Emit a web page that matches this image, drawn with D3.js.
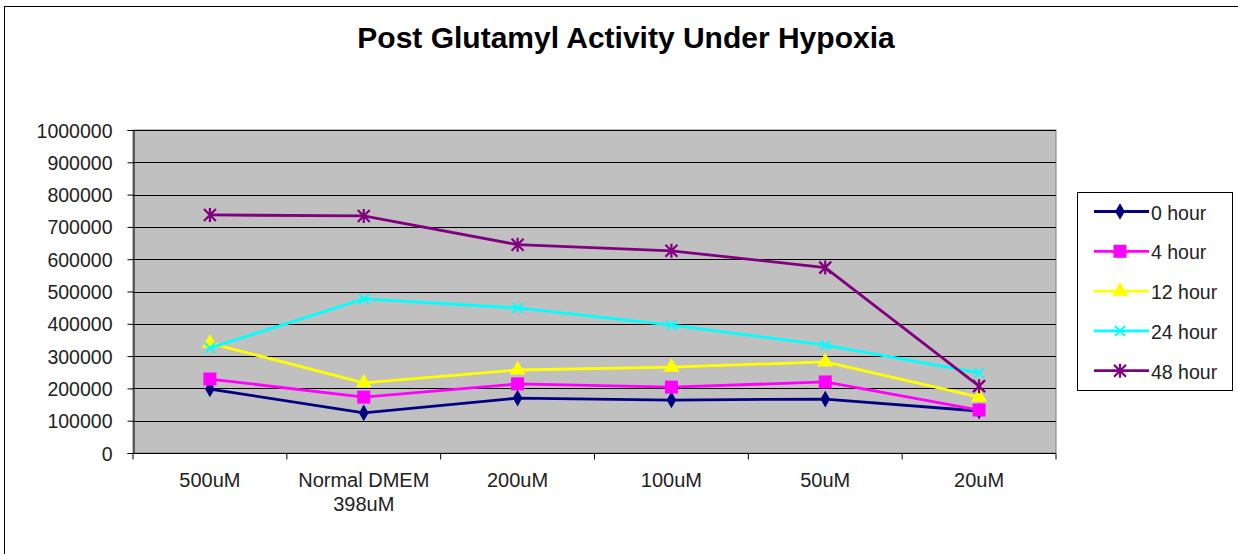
<!DOCTYPE html>
<html><head><meta charset="utf-8">
<script src="https://cdn.jsdelivr.net/npm/d3@7"></script>
<style>body{margin:0;background:#fff}svg{display:block}text{font-family:"Liberation Sans",Arial,sans-serif}</style>
</head><body><svg id="c" width="1238" height="554"></svg>
<script>
const categories = ["500uM", "Normal DMEM\n398uM", "200uM", "100uM", "50uM", "20uM"];
const seriesNames = ["0 hour", "4 hour", "12 hour", "24 hour", "48 hour"];
const h0 = [198000, 124000, 170000, 164000, 167000, 130000];
const h4 = [229000, 173000, 214000, 204000, 220000, 133000];
const h12 = [340000, 217000, 257000, 266000, 282000, 173000];
const h24 = [325000, 477000, 449000, 396000, 334000, 248000];
const h48 = [737000, 734000, 645000, 626000, 574000, 207000];
const yTicks = [0,100000,200000,300000,400000,500000,600000,700000,800000,900000,1000000];
const colors = ["#000080", "#FF00FF", "#FFFF00", "#00FFFF", "#800080"];
const markers = ["diamond", "square", "triangle", "x", "star"];
const series = [h0, h4, h12, h24, h48];

const svg = d3.select("#c");
svg.append("rect").attr("x",4.5).attr("y",6.5).attr("width",1250).attr("height",560).attr("fill","#fff").attr("stroke","#000");

const L=133, R=1056, T=130, B=453;
const x = d3.scaleBand().domain(categories).range([L,R]);
const y = d3.scaleLinear().domain([0,1000000]).range([B,T]);

svg.append("rect").attr("x",L).attr("y",T).attr("width",R-L).attr("height",B-T).attr("fill","#c0c0c0").attr("stroke","#808080");
svg.append("g").selectAll("line").data(yTicks.slice(1)).join("line")
  .attr("x1",L).attr("x2",R).attr("y1",d=>Math.round(y(d))+0.5).attr("y2",d=>Math.round(y(d))+0.5).attr("stroke","#000");

const ya = svg.append("g").attr("transform",`translate(${L+0.5},0)`).call(d3.axisLeft(y).tickValues(yTicks).tickFormat(d3.format("d")).tickSizeOuter(0).tickSize(6).tickPadding(15));
ya.select(".domain").attr("stroke","#000");
ya.selectAll("text").attr("font-size",19.5).attr("fill","#222").attr("dy","0.36em");

const xa = svg.append("g").attr("transform",`translate(0,${B+0.5})`);
xa.append("line").attr("x1",L).attr("x2",R).attr("stroke","#000");
xa.selectAll("line.t").data(d3.range(categories.length+1)).join("line").attr("class","t")
  .attr("x1",i=>L+i*x.step()).attr("x2",i=>L+i*x.step()).attr("y1",0).attr("y2",6).attr("stroke","#000");
xa.selectAll("text").data(categories).join("text")
  .attr("x",d=>x(d)+x.bandwidth()/2).attr("y",33.5).attr("text-anchor","middle").attr("font-size",20).attr("fill","#222")
  .each(function(d){const t=d3.select(this);d.split("\n").forEach((s,i)=>t.append("tspan").attr("x",x(d)+x.bandwidth()/2).attr("dy",i?24:0).text(s));});

svg.append("text").attr("x",626).attr("y",48).attr("text-anchor","middle").attr("font-size",30).attr("font-weight","bold").text("Post Glutamyl Activity Under Hypoxia");

function marker(g, type, color, cx, cy){
  if(type==="diamond") g.append("path").attr("d",d3.symbol(d3.symbolDiamond,80)()).attr("transform",`translate(${cx},${cy})`).attr("fill",color);
  else if(type==="square") g.append("rect").attr("x",cx-6.5).attr("y",cy-6.5).attr("width",13).attr("height",13).attr("fill",color);
  else if(type==="triangle") g.append("path").attr("d",d3.symbol(d3.symbolTriangle,110)()).attr("transform",`translate(${cx},${cy})`).attr("fill",color);
  else if(type==="x") g.append("path").attr("d",`M${cx-5},${cy-5}L${cx+5},${cy+5}M${cx-5},${cy+5}L${cx+5},${cy-5}`).attr("stroke",color).attr("stroke-width",2);
  else g.append("path").attr("d",`M${cx-6},${cy-6}L${cx+6},${cy+6}M${cx-6},${cy+6}L${cx+6},${cy-6}M${cx},${cy-7}L${cx},${cy+7}`).attr("stroke",color).attr("stroke-width",2.2);
}
const line = d3.line().x((d,i)=>x(categories[i])+x.bandwidth()/2).y(d=>y(d));
series.forEach((s,k)=>{
  const g = svg.append("g");
  g.append("path").attr("d",line(s)).attr("fill","none").attr("stroke",colors[k]).attr("stroke-width",2.8);
  s.forEach((v,i)=>marker(g,markers[k],colors[k],x(categories[i])+x.bandwidth()/2,y(v)));
});

const lg = svg.append("g");
lg.append("rect").attr("x",1077.5).attr("y",192.5).attr("width",155).attr("height",198).attr("fill","#fff").attr("stroke","#000");
seriesNames.forEach((n,k)=>{
  const cy = 211.5 + k*39.8;
  lg.append("line").attr("x1",1094).attr("x2",1149).attr("y1",cy).attr("y2",cy).attr("stroke",colors[k]).attr("stroke-width",2.8);
  marker(lg,markers[k],colors[k],1120,cy);
  lg.append("text").attr("x",1151).attr("y",cy+8).attr("font-size",19.5).attr("fill","#222").text(n);
});
</script></body></html>
